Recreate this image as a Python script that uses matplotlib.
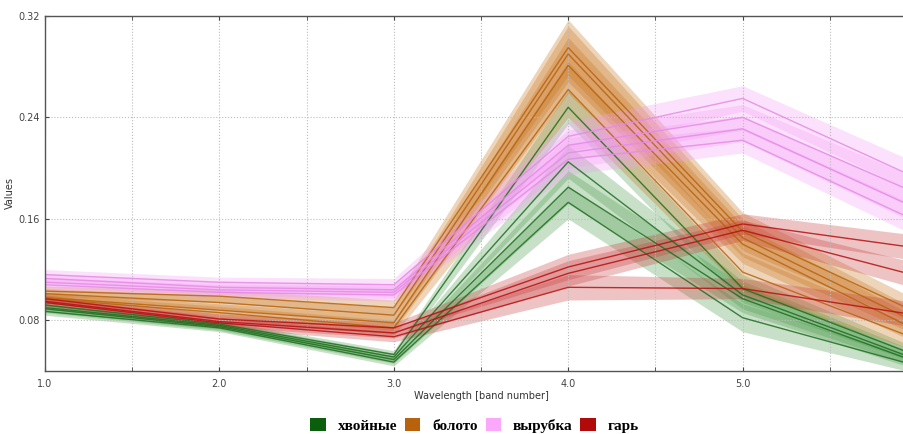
import numpy as np
import matplotlib
matplotlib.use("Agg")
import matplotlib.pyplot as plt
from matplotlib.patches import Patch
from matplotlib.ticker import MultipleLocator

# band numbers
bands = [1, 2, 3, 4, 5, 6]

# mean spectra per sample, grouped by class
hvoinye = [
    [0.092, 0.077, 0.053, 0.248, 0.105, 0.052],
    [0.090, 0.076, 0.051, 0.205, 0.100, 0.049],
    [0.089, 0.075, 0.049, 0.185, 0.097, 0.047],
    [0.087, 0.074, 0.047, 0.173, 0.082, 0.044],
]
boloto = [
    [0.103, 0.099, 0.090, 0.295, 0.150, 0.086],
    [0.101, 0.094, 0.084, 0.290, 0.145, 0.078],
    [0.098, 0.088, 0.078, 0.281, 0.140, 0.072],
    [0.097, 0.086, 0.074, 0.262, 0.118, 0.065],
]
vyrubka = [
    [0.116, 0.110, 0.108, 0.225, 0.255, 0.192],
    [0.113, 0.106, 0.104, 0.218, 0.240, 0.180],
    [0.110, 0.104, 0.102, 0.212, 0.231, 0.168],
    [0.108, 0.102, 0.100, 0.207, 0.222, 0.158],
]
gar = [
    [0.097, 0.081, 0.074, 0.122, 0.156, 0.137],
    [0.095, 0.079, 0.070, 0.117, 0.151, 0.115],
    [0.094, 0.078, 0.067, 0.106, 0.105, 0.084],
]

# half width of the shaded band around each line
spread_hvoinye = [0.003, 0.003, 0.003, 0.013, 0.011, 0.006]
spread_boloto = [0.004, 0.005, 0.006, 0.022, 0.015, 0.010]
spread_vyrubka = [0.004, 0.004, 0.005, 0.012, 0.010, 0.012]
spread_gar = [0.003, 0.004, 0.004, 0.010, 0.008, 0.010]

class_names = ["хвойные", "болото", "вырубка", "гарь"]
line_colors = ["#1e6e1e", "#b8620e", "#e58ae5", "#b51010"]
fill_colors = ["#4a9a4a", "#c8741c", "#f59cf5", "#c83a3a"]
legend_colors = ["#0b5e0b", "#b8620e", "#fba8fb", "#b00a0a"]

groups = [hvoinye, boloto, vyrubka, gar]
spreads = [spread_hvoinye, spread_boloto, spread_vyrubka, spread_gar]

fig = plt.figure(figsize=(9.04, 4.34), dpi=100)
ax = fig.add_axes([0.0498, 0.1452, 0.9646, 0.818])

x = np.array(bands)
for grp, sp, lc, fc in zip(groups, spreads, line_colors, fill_colors):
    sp = np.array(sp)
    for row in grp:
        y = np.array(row)
        ax.fill_between(x, y - sp, y + sp, color=fc, alpha=0.3, lw=0)
        ax.plot(x, y, color=lc, lw=1.0, alpha=0.85)

ax.set_xlim(1, 6)
ax.set_ylim(0.04, 0.32)
ax.xaxis.set_minor_locator(MultipleLocator(0.5))
ax.set_xticks([1, 2, 3, 4, 5, 6])
# the 6.0 label falls outside the picture in the reference
ax.set_xticklabels(["1.0", "2.0", "3.0", "4.0", "5.0", ""])
ax.set_yticks([0.08, 0.16, 0.24, 0.32])
ax.set_yticklabels(["0.08", "0.16", "0.24", "0.32"])
ax.tick_params(which="both", direction="in", top=True, right=True,
               labelsize=7, colors="#444444", length=3)
ax.tick_params(axis="x", pad=6)
ax.grid(True, which="major", ls=":", color="#bbbbbb", lw=0.8)
ax.grid(True, which="minor", axis="x", ls=":", color="#bbbbbb", lw=0.8)
for s in ax.spines.values():
    s.set_color("#555555")
    s.set_linewidth(1.0)

ax.set_xlabel("Wavelength [band number]", fontsize=7, color="#333333", labelpad=1)
ax.set_ylabel("Values", fontsize=7, color="#333333", labelpad=3)

handles = [Patch(facecolor=c, edgecolor="none") for c in legend_colors]
fig.legend(handles, class_names, loc="center", bbox_to_anchor=(0.525, 0.02),
           ncol=4, frameon=False, handlelength=1.0, handleheight=1.0,
           handletextpad=0.8, columnspacing=0.5,
           prop={"family": "Liberation Serif", "weight": "bold", "size": 11})

fig.savefig("out.png", dpi=100)
